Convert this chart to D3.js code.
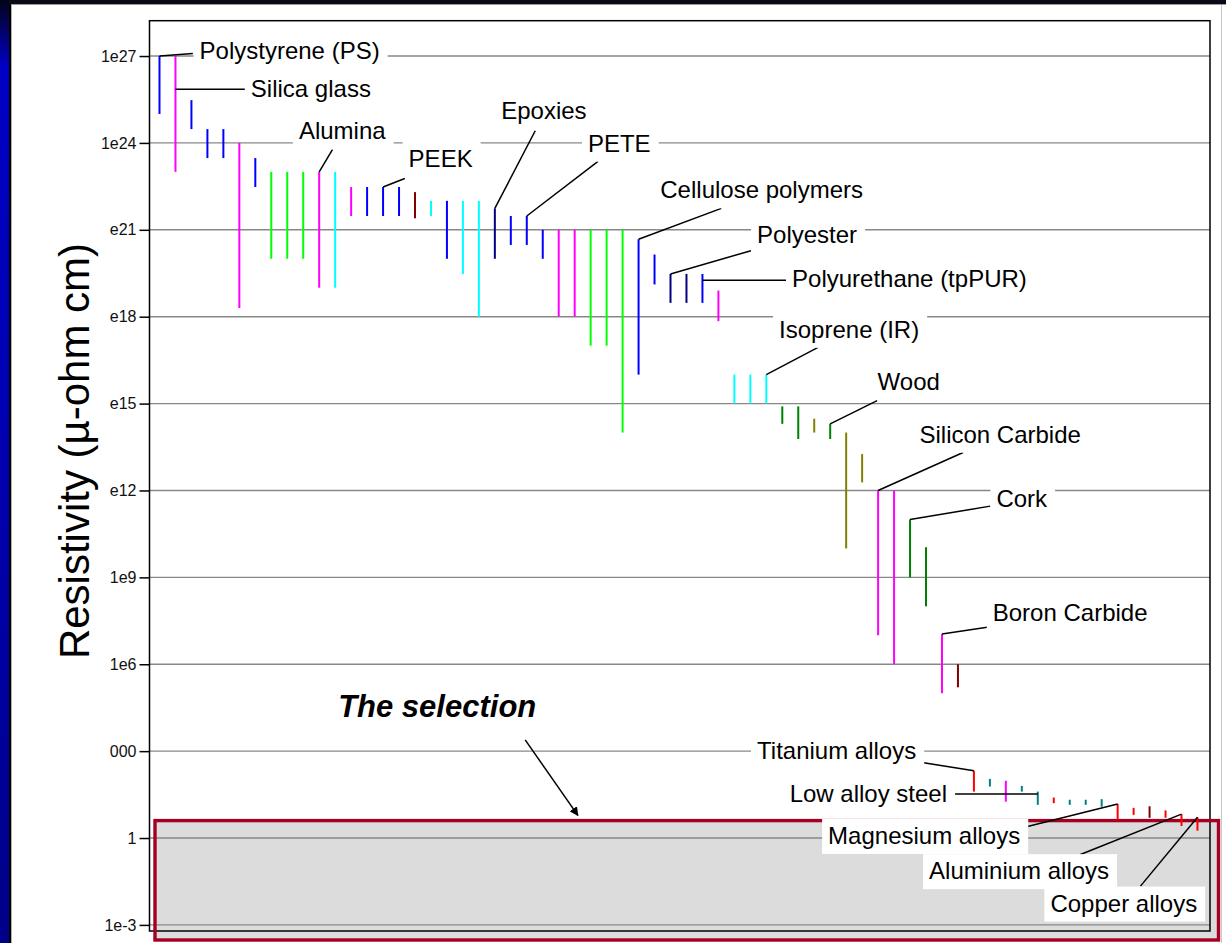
<!DOCTYPE html>
<html>
<head>
<meta charset="utf-8">
<script src="https://cdn.jsdelivr.net/npm/d3@7"></script>
<style>
  html, body { margin: 0; padding: 0; background: #fff; overflow: hidden; }
  svg { display: block; font-family: "Liberation Sans", Arial, sans-serif; }
</style>
</head>
<body>
<script>
// one entry per bar, left to right
var barFamily = [
  "TP","CG","TP","TP","TP","CG","TP","FO","FO","FO",
  "CG","EL","CG","TP","TP","TP","CO","EL","TP","EL",
  "EL","TS","TP","TP","TP","CG","CG","FO","FO","FO",
  "TP","TP","TS","TS","TP","CG","EL","EL","EL","NA",
  "NA","NO","NA","NO","NO","CG","CG","NA","NA","CG",
  "CO","NF","FE","CG","FE","FE","NF","FE","FE","FE",
  "NF","NF","CO","NF","NF","NF"
];
var barLow = [
  1e25, 1e23, 3e24, 3e23, 3e23, 2e18, 3e22, 1e20, 1e20, 1e20,
  1e19, 1e19, 3e21, 3e21, 3e21, 3e21, 2.5e21, 3e21, 1e20, 3e19,
  1e18, 1e20, 3e20, 3e20, 1e20, 1e18, 1e18, 1e17, 1e17, 1e14,
  1e16, 1.3e19, 3e18, 3e18, 3e18, 7e17, 1e15, 1e15, 1e15, 2e14,
  6e13, 1e14, 6e13, 1e10, 1.9e12, 1e7, 1e6, 1e9, 1e8, 1e5,
  1.6e5, 40, 60, 18, 40, 14, 16, 14, 14, 12,
  4.3, 6.3, 5, 5, 2.6, 1.8
];
var barHigh = [
  1e27, 1e27, 3e25, 3e24, 3e24, 1e24, 3e23, 1e23, 1e23, 1e23,
  1e23, 1e23, 3e22, 3e22, 3e22, 3e22, 2e22, 1e22, 1e22, 1e22,
  1e22, 5.5e21, 3e21, 3e21, 1e21, 1e21, 1e21, 1e21, 1e21, 1e21,
  4.7e20, 1.4e20, 3e19, 3e19, 3e19, 8e18, 1e16, 1e16, 1e16, 8e14,
  8e14, 3e14, 2e14, 1e14, 1.8e13, 1e12, 1e12, 1e11, 1.1e10, 1.1e7,
  1e6, 210, 110, 95, 63, 40, 25, 21, 21, 22,
  15, 11, 12.5, 9, 6.7, 5.2
];

var familyKeys = ["TP","TS","EL","CG","FO","CO","NA","NO","FE","NF"];
var familyColors = ["#0000ff","#000080","#00ffff","#ff00ff","#00ff00","#800000","#008000","#808000","#008080","#ff0000"];

var tickValues = [1e-3, 1, 1e3, 1e6, 1e9, 1e12, 1e15, 1e18, 1e21, 1e24, 1e27];
var tickLabels = ["1e-3", "1", "000", "1e6", "1e9", "e12", "e15", "e18", "e21", "1e24", "1e27"];

// labelled materials: bar index, text, text anchor (bar units, log10),
// leader end next to the label, and where the leader leaves the bar (log10, null = top)
var labelNames = [
  "Polystyrene (PS)", "Silica glass", "Alumina", "PEEK", "Epoxies", "PETE",
  "Cellulose polymers", "Polyester", "Polyurethane (tpPUR)", "Isoprene (IR)", "Wood",
  "Silicon Carbide", "Cork", "Boron Carbide", "Titanium alloys", "Low alloy steel",
  "Magnesium alloys", "Aluminium alloys", "Copper alloys"
];
var labelBar = [0, 1, 10, 14, 21, 23, 30, 32, 34, 38, 42, 45, 47, 49, 51, 55, 60, 64, 65];
var labelAt = [
  [2.51, 26.89], [5.72, 25.57], [8.73, 24.12], [15.6, 23.17], [21.4, 24.81], [26.83, 23.70],
  [31.36, 22.09], [37.42, 20.53], [39.61, 19.01], [38.8, 17.27], [44.97, 15.47],
  [47.59, 13.65], [52.41, 11.42], [52.18, 7.505], [37.42, 2.72], [39.46, 1.23],
  [41.87, -0.205], [48.19, -1.42], [55.79, -2.54]
];
var labelEnd = [
  [2.09, 27.09], [5.35, 25.85], [10.84, 23.78], [15.36, 22.77], [23.53, 24.42], [27.46, 23.36],
  [35.18, 21.74], [37.04, 20.28], [39.24, 19.26], [41.24, 16.94], [44.94, 15.10],
  [50.32, 13.31], [52.03, 11.46], [51.83, 7.28], [47.85, 2.60], [49.70, 1.52],
  [54.29, 0.39], [57.67, -0.57], [61.43, -1.66]
];
var labelAttach = [null, 25.85, null, null, null, null, null, null, 19.26, null, null,
  null, null, null, null, 1.52, null, null, null];

var selectionText = "The selection";
var selectionAt = [17.39, 4.18];
var arrowFrom = [22.9, 3.39], arrowTo = [26.2, 0.78];
var selectionTop = 4;

var W = 1226, H = 943;
var plot = { left: 149.5, right: 1210, top: 20.7, bottom: 931 };

var svg = d3.select("body").append("svg")
  .attr("width", W)
  .attr("height", H);

var defs = svg.append("defs");
var grad = defs.append("linearGradient")
  .attr("id", "side")
  .attr("x1", 0).attr("y1", 0).attr("x2", 0).attr("y2", 1);
grad.append("stop").attr("offset", "0").attr("stop-color", "#04041a");
grad.append("stop").attr("offset", "0.07").attr("stop-color", "#0000c4");
grad.append("stop").attr("offset", "0.5").attr("stop-color", "#0000b0");
grad.append("stop").attr("offset", "1").attr("stop-color", "#000088");
defs.append("marker")
  .attr("id", "arrow")
  .attr("viewBox", "0 0 10 10")
  .attr("refX", 9).attr("refY", 5)
  .attr("markerWidth", 9).attr("markerHeight", 9)
  .attr("markerUnits", "userSpaceOnUse")
  .attr("orient", "auto")
  .append("path")
  .attr("d", "M0,0 L10,5 L0,10 z")
  .attr("fill", "#000");

// slide frame
svg.append("rect").attr("width", W).attr("height", H).attr("fill", "#fff");
svg.append("rect").attr("x", 0).attr("y", 0).attr("width", W).attr("height", 4).attr("fill", "#0a0a16");
svg.append("line").attr("x1", 0).attr("x2", W).attr("y1", 4.5).attr("y2", 4.5).attr("stroke", "#9a9a9a").attr("stroke-width", 1);
svg.append("rect").attr("x", 0).attr("y", 0).attr("width", 9).attr("height", H).attr("fill", "url(#side)");
svg.append("rect").attr("x", 9).attr("y", 4).attr("width", 2).attr("height", H).attr("fill", "#000");
svg.append("line").attr("x1", 11.5).attr("x2", 11.5).attr("y1", 5).attr("y2", H).attr("stroke", "#b0b0b0").attr("stroke-width", 1);
svg.append("line").attr("x1", 1221.5).attr("x2", 1221.5).attr("y1", 5).attr("y2", H).attr("stroke", "#c8c8c8").attr("stroke-width", 1);

var n = barLow.length;
var x = d3.scalePoint()
  .domain(d3.range(n))
  .range([plot.left, plot.right])
  .padding(0.705)
  .align(0.444);
var xi = d3.scaleLinear().domain([0, n - 1]).range([x(0), x(n - 1)]);
var y = d3.scaleLog()
  .domain([Math.pow(10, -3.21), Math.pow(10, 28.22)])
  .range([plot.bottom, plot.top]);
var ye = function(e) { return y(Math.pow(10, e)); };
var color = d3.scaleOrdinal().domain(familyKeys).range(familyColors);

// selection box fill (under the grid)
var selBox = {
  x: plot.left + 5.5, y: y(selectionTop),
  w: plot.right - plot.left + 3, h: plot.bottom + 9 - y(selectionTop)
};
svg.append("rect")
  .attr("x", selBox.x).attr("y", selBox.y)
  .attr("width", selBox.w).attr("height", selBox.h)
  .attr("fill", "#dcdcdc");

// grid
svg.append("g").selectAll("line")
  .data(tickValues)
  .enter()
  .append("line")
  .attr("x1", plot.left).attr("x2", plot.right)
  .attr("y1", function(d) { return y(d); })
  .attr("y2", function(d) { return y(d); })
  .attr("stroke", "#888")
  .attr("stroke-width", 1.4);

// frame
svg.append("rect")
  .attr("x", plot.left).attr("y", plot.top)
  .attr("width", plot.right - plot.left).attr("height", plot.bottom - plot.top)
  .attr("fill", "none").attr("stroke", "#000").attr("stroke-width", 1.5);

var axis = svg.append("g")
  .attr("transform", "translate(" + plot.left + ",0)")
  .call(d3.axisLeft(y)
    .tickValues(tickValues)
    .tickSize(10)
    .tickPadding(3)
    .tickFormat(function(d, i) { return tickLabels[i]; }));
axis.select(".domain").remove();
axis.selectAll(".tick line").attr("stroke", "#000").attr("stroke-width", 1.5);
axis.selectAll(".tick text")
  .attr("font-family", "'Liberation Sans', Arial, sans-serif")
  .attr("font-size", 16)
  .attr("fill", "#111");

// selection border
svg.append("rect")
  .attr("x", selBox.x).attr("y", selBox.y)
  .attr("width", selBox.w).attr("height", selBox.h)
  .attr("fill", "none").attr("stroke", "#a50021").attr("stroke-width", 3.4);

// bars
svg.append("g").selectAll("line")
  .data(d3.range(n))
  .enter()
  .append("line")
  .attr("x1", function(i) { return x(i); })
  .attr("x2", function(i) { return x(i); })
  .attr("y1", function(i) { return y(barHigh[i]); })
  .attr("y2", function(i) { return y(barLow[i]); })
  .attr("stroke", function(i) { return color(barFamily[i]); })
  .attr("stroke-width", 2);

// leaders
svg.append("g").selectAll("line")
  .data(d3.range(labelNames.length))
  .enter()
  .append("line")
  .attr("x1", function(k) { return x(labelBar[k]); })
  .attr("y1", function(k) {
    return labelAttach[k] === null ? y(barHigh[labelBar[k]]) : ye(labelAttach[k]);
  })
  .attr("x2", function(k) { return xi(labelEnd[k][0]); })
  .attr("y2", function(k) { return ye(labelEnd[k][1]); })
  .attr("stroke", "#000")
  .attr("stroke-width", 1.5);

// labels with white boxes
var labels = svg.append("g").selectAll("g")
  .data(d3.range(labelNames.length))
  .enter()
  .append("g")
  .attr("transform", function(k) {
    return "translate(" + xi(labelAt[k][0]) + "," + ye(labelAt[k][1]) + ")";
  });
var boxes = labels.append("rect").attr("fill", "#fff");
var texts = labels.append("text")
  .attr("font-size", 24)
  .attr("fill", "#000")
  .text(function(k) { return labelNames[k]; });
texts.each(function(k) {
  var w = this.getComputedTextLength();
  d3.select(this.parentNode).select("rect")
    .attr("x", -6).attr("y", -25)
    .attr("width", w + 14).attr("height", 35);
});

// axis title
svg.append("text")
  .attr("transform", "translate(89,451) rotate(-90)")
  .attr("text-anchor", "middle")
  .attr("font-size", 42)
  .attr("fill", "#000")
  .text("Resistivity (\u00b5-ohm cm)");

// selection note + arrow
svg.append("text")
  .attr("x", xi(selectionAt[0]))
  .attr("y", ye(selectionAt[1]))
  .attr("text-anchor", "middle")
  .attr("font-size", 31)
  .attr("font-weight", "bold")
  .attr("font-style", "italic")
  .attr("fill", "#000")
  .text(selectionText);
svg.append("line")
  .attr("x1", xi(arrowFrom[0])).attr("y1", ye(arrowFrom[1]))
  .attr("x2", xi(arrowTo[0])).attr("y2", ye(arrowTo[1]))
  .attr("stroke", "#000")
  .attr("stroke-width", 1.5)
  .attr("marker-end", "url(#arrow)");
</script>
</body>
</html>
